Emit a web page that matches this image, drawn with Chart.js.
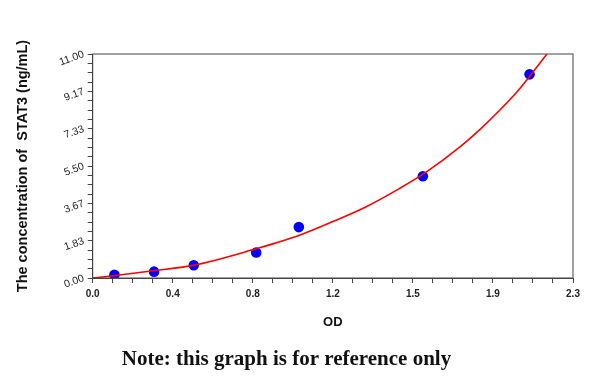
<!DOCTYPE html>
<html>
<head>
<meta charset="utf-8">
<script src="https://cdn.jsdelivr.net/npm/chart.js@4/dist/chart.umd.min.js"></script>
<style>
  html, body { margin: 0; padding: 0; background: #fff; }
  #wrap { width: 600px; height: 382px; }
</style>
</head>
<body>
<div id="wrap"><canvas id="stdCurve" width="600" height="382"></canvas></div>
<script>
// pontos medidos (OD x concentração)
const odValues = [0.104, 0.294, 0.484, 0.783, 0.987, 1.581, 2.092];
const concValues = [0.156, 0.312, 0.625, 1.25, 2.5, 5, 10];

// curva ajustada
const curveOd = [0, 0.1, 0.28, 0.48, 0.76, 0.99, 1.15, 1.31, 1.47, 1.6, 1.76, 1.86, 1.95, 2.03, 2.1, 2.175];
const curveConc = [0, 0.11, 0.34, 0.62, 1.37, 2.1, 2.77, 3.5, 4.4, 5.22, 6.45, 7.35, 8.25, 9.12, 10.0, 11.0];

// rótulos dos eixos
const xTickLabels = ['0.0', '0.4', '0.8', '1.2', '1.5', '1.9', '2.3'];
const yTickLabels = ['0.00', '1.83', '3.67', '5.50', '7.33', '9.17', '11.00'];
const xMax = 2.3;
const yMax = 11;

const axisColor = '#444';

// moldura em volta da área do gráfico
const framePlugin = {
    id: 'frame',
    afterDraw(chart) {
        const { ctx, chartArea } = chart;
        ctx.save();
        ctx.strokeStyle = axisColor;
        ctx.lineWidth = 1;
        ctx.strokeRect(chartArea.left, chartArea.top, chartArea.right - chartArea.left, chartArea.bottom - chartArea.top);
        ctx.restore();
    }
};

const ctx = document.getElementById('stdCurve').getContext('2d');
new Chart(ctx, {
    type: 'scatter',
    data: {
        datasets: [{
            label: 'fit',
            data: curveOd.map((x, i) => ({ x: x, y: curveConc[i] })),
            showLine: true,
            borderColor: '#ff0000',
            borderWidth: 1.6,
            pointRadius: 0,
            cubicInterpolationMode: 'monotone',
            clip: 0
        }, {
            label: 'std',
            data: odValues.map((x, i) => ({ x: x, y: concValues[i] })),
            backgroundColor: '#0000ff',
            borderColor: '#0000ff',
            pointRadius: 5.3,
            pointBorderWidth: 0,
            showLine: false
        }]
    },
    options: {
        responsive: false,
        animation: false,
        layout: { padding: { left: 0, top: 54, right: 27, bottom: 0 } },
        plugins: {
            legend: { display: false },
            tooltip: { enabled: false },
            title: {
                display: true,
                position: 'bottom',
                text: 'Note: this graph is for reference only',
                color: '#111',
                font: { family: '"Liberation Serif", "DejaVu Serif", serif', size: 21, weight: 'bold' },
                padding: { top: 8, bottom: 9.4 }
            }
        },
        scales: {
            x: {
                type: 'linear',
                min: 0,
                max: xMax,
                afterFit: s => { s.height = 61.4; },
                ticks: {
                    stepSize: xMax / 24,
                    autoSkip: false,
                    maxRotation: 0,
                    padding: 5,
                    color: '#222',
                    font: { family: '"Liberation Sans", Arial, sans-serif', size: 10, weight: 'bold' },
                    callback: (v, i) => (i % 4 === 0 ? xTickLabels[i / 4] : '')
                },
                grid: { drawOnChartArea: false, tickLength: 5, color: axisColor },
                border: { color: axisColor },
                title: {
                    display: true,
                    text: 'OD',
                    color: '#111',
                    font: { family: '"Liberation Sans", Arial, sans-serif', size: 13, weight: 'bold' },
                    padding: { top: 0, bottom: 9.6 }
                }
            },
            y: {
                type: 'linear',
                min: 0,
                max: yMax,
                afterFit: s => { s.width = 92.7; },
                ticks: {
                    stepSize: yMax / 24,
                    autoSkip: false,
                    minRotation: 20,
                    maxRotation: 20,
                    padding: 4,
                    color: '#222',
                    font: { family: '"Liberation Sans", Arial, sans-serif', size: 10.5 },
                    callback: (v, i) => (i % 4 === 0 ? yTickLabels[i / 4] : '')
                },
                grid: { drawOnChartArea: false, tickLength: 5, color: axisColor },
                border: { color: axisColor },
                title: {
                    display: true,
                    text: 'The concentration of  STAT3 (ng/mL)',
                    color: '#111',
                    font: { family: '"Liberation Sans", Arial, sans-serif', size: 14.5, weight: 'bold' },
                    padding: { top: 14, bottom: 0 }
                }
            }
        }
    },
    plugins: [framePlugin]
});
</script>
</body>
</html>
